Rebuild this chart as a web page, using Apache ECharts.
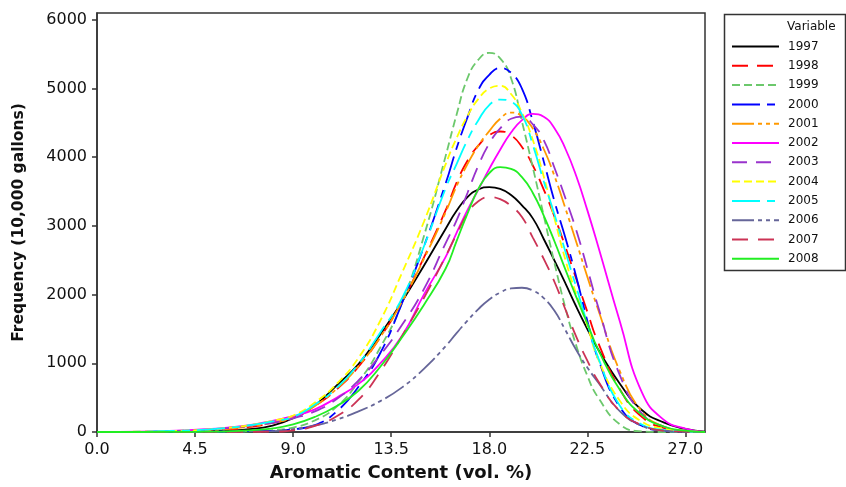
<!DOCTYPE html>
<html>
<head>
<meta charset="utf-8">
<script src="https://cdn.jsdelivr.net/npm/echarts@6/dist/echarts.min.js"></script>
<style>html,body{margin:0;padding:0;background:#fff;}#c{width:846px;height:487px;}</style>
</head>
<body>
<div id="c"></div>
<script>
// Aromatic content (vol. %) sample points
var xs = [0,2,4,5,6,7,8,9,10,11,12,13,14,15,16,16.5,17,17.5,18,18.5,19,19.5,20,20.5,21,21.5,22,22.5,23,24,25,26,27,27.9];
var years = ['1997','1998','1999','2000','2001','2002','2003','2004','2005','2006','2007','2008'];
var xTicks = [0,4.5,9,13.5,18,22.5,27];
var yTicks = [0,1000,2000,3000,4000,5000,6000];

var y1997 = [0,0,5,10,20,40,90,200,390,680,990,1420,1900,2420,2960,3220,3420,3530,3565,3540,3450,3300,3110,2810,2490,2160,1820,1500,1200,700,320,140,45,5];
var y1998 = [0,0,10,20,40,70,130,210,380,620,950,1380,1900,2540,3230,3630,3950,4170,4320,4375,4320,4150,3880,3530,3130,2690,2220,1750,1300,620,220,60,12,0];
var y1999 = [0,0,0,2,5,10,25,65,170,370,730,1230,1880,2850,4020,4620,5150,5420,5520,5440,5150,4520,3850,3150,2450,1800,1250,820,500,110,10,0,0,0];
var y2000 = [0,0,2,5,8,12,15,40,100,300,660,1150,1880,2700,3620,4130,4580,4980,5200,5300,5230,5000,4520,3940,3350,2820,2250,1620,1060,360,90,20,5,0];
var y2001 = [0,2,15,25,45,80,130,210,380,630,960,1380,1900,2520,3200,3580,3900,4170,4380,4560,4650,4600,4420,4120,3720,3250,2760,2260,1780,880,300,80,15,0];
var y2002 = [0,5,25,40,65,100,160,230,330,500,700,1000,1400,2000,2550,2900,3230,3530,3830,4110,4360,4540,4630,4590,4420,4120,3720,3230,2700,1600,580,180,50,0];
var y2003 = [0,3,20,30,55,90,130,200,300,480,750,1120,1560,2080,2750,3080,3480,3880,4200,4420,4560,4590,4480,4250,3840,3400,2930,2380,1820,820,270,80,20,0];
var y2004 = [0,5,20,35,60,100,160,240,430,700,1080,1620,2320,3060,3900,4280,4600,4850,5000,5040,4920,4650,4250,3720,3100,2500,2000,1550,1060,450,150,50,15,0];
var y2005 = [0,5,20,35,60,100,150,220,400,640,990,1450,1950,2700,3550,3900,4250,4540,4760,4840,4810,4620,4180,3650,3160,2620,2100,1580,1080,380,110,30,8,0];
var y2006 = [0,0,2,3,5,8,12,40,95,180,300,450,650,920,1250,1440,1620,1790,1930,2030,2090,2100,2060,1950,1760,1480,1190,940,720,300,90,20,5,0];
var y2007 = [0,0,0,1,2,3,5,25,90,230,470,880,1400,1950,2560,2880,3180,3360,3420,3390,3290,3130,2830,2520,2180,1780,1380,1040,740,300,100,20,5,0];
var y2008 = [0,0,2,5,10,25,50,110,220,380,600,950,1380,1850,2380,2780,3180,3540,3770,3855,3830,3710,3480,3150,2770,2360,1960,1580,1200,610,250,80,20,0];

var values = [y1997,y1998,y1999,y2000,y2001,y2002,y2003,y2004,y2005,y2006,y2007,y2008];
var colors = ['#000000','#ff0000','#6cc86c','#0000ff','#ff9900','#ff00ff','#9933cc','#ffff00','#00ffff','#666699','#cc3355','#22ee22'];
var dashes = ['solid',[16,9],[8,4],[28,7,8,7],[22,4,4,4,4,4],'solid',[15,9],[8,4],[28,7,8,7],[22,4,4,4,4,4],[16,10],'solid'];

var FONT = 'DejaVu Sans';
var series = years.map(function(name, i){
  return {
    name: name,
    type: 'line',
    data: xs.map(function(x, j){ return [x, values[i][j]]; }),
    smooth: 0.5,
    symbol: 'none',
    showSymbol: false,
    lineStyle: {color: colors[i], width: 1.8, type: dashes[i]},
    itemStyle: {color: colors[i]},
    emphasis: {disabled: true}
  };
});

var chart = echarts.init(document.getElementById('c'));
chart.setOption({
  animation: false,
  backgroundColor: '#fff',
  grid: {left: 97, right: 141, top: 13, bottom: 51, show: true, borderColor: '#333', borderWidth: 1.5, containLabel: false},
  xAxis: {
    type: 'value', min: 0, max: 27.9,
    name: 'Aromatic Content (vol. %)', nameLocation: 'middle', nameGap: 32,
    nameTextStyle: {fontFamily: FONT, fontSize: 18, fontWeight: 'bold', color: '#111'},
    axisLine: {show: true, lineStyle: {color: '#333', width: 1.5}},
    axisTick: {show: true, length: 5, lineStyle: {color: '#333', width: 1.5}, customValues: xTicks},
    axisLabel: {fontFamily: FONT, fontSize: 16, color: '#111', margin: 10, customValues: xTicks,
      formatter: function(v){ return Number(v).toFixed(1); }},
    splitLine: {show: false}
  },
  yAxis: {
    type: 'value', min: 0, max: 6100,
    name: 'Frequency (10,000 gallons)', nameLocation: 'middle', nameGap: 70, nameRotate: 90,
    nameTextStyle: {fontFamily: FONT, fontSize: 15.5, fontWeight: 'bold', color: '#111'},
    axisLine: {show: true, lineStyle: {color: '#333', width: 1.5}},
    axisTick: {show: true, length: 5, lineStyle: {color: '#333', width: 1.5}, customValues: yTicks},
    axisLabel: {fontFamily: FONT, fontSize: 16, color: '#111', margin: 10, customValues: yTicks,
      formatter: function(v){ return String(Math.round(v)); }},
    splitLine: {show: false}
  },
  legend: {
    orient: 'vertical', left: 731, top: 40.5, padding: 0,
    itemWidth: 47, itemHeight: 12, itemGap: 7.3,
    data: years,
    itemStyle: {opacity: 0},
    textStyle: {fontFamily: FONT, fontSize: 12, color: '#111', padding: [0,0,0,4]},
    selectedMode: false
  },
  graphic: [
    {type: 'rect', shape: {x: 724.5, y: 14.5, width: 121, height: 256}, style: {fill: 'none', stroke: '#333', lineWidth: 1.5}, silent: true},
    {type: 'text', x: 787, y: 27, style: {text: 'Variable', font: '12px "DejaVu Sans"', fill: '#111', textVerticalAlign: 'middle', verticalAlign: 'middle'}, silent: true}
  ],
  series: series
});
</script>
</body>
</html>
